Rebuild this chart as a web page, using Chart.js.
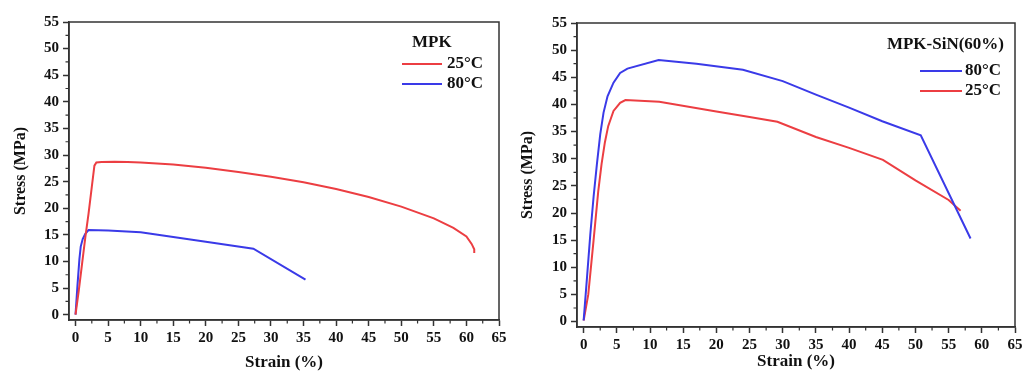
<!DOCTYPE html>
<html>
<head>
<meta charset="utf-8">
<script src="https://cdn.jsdelivr.net/npm/chart.js@4.4.1/dist/chart.umd.min.js"></script>
<style>
  html, body { margin: 0; padding: 0; background: #fff; overflow: hidden; width: 1022px; height: 376px; }
  .wrap { position: absolute; top: 0; }
  canvas { display: block; }
</style>
</head>
<body>
<div class="wrap" style="left:0px"><canvas id="c1" width="510" height="376"></canvas></div>
<div class="wrap" style="left:510px"><canvas id="c2" width="520" height="376"></canvas></div>
<script>
// ---------- data ----------
const xTicks = [0, 5, 10, 15, 20, 25, 30, 35, 40, 45, 50, 55, 60, 65];
const yTicks = [0, 5, 10, 15, 20, 25, 30, 35, 40, 45, 50, 55];
const xMinor = [2.5, 7.5, 12.5, 17.5, 22.5, 27.5, 32.5, 37.5, 42.5, 47.5, 52.5, 57.5, 62.5];
const yMinor = [2.5, 7.5, 12.5, 17.5, 22.5, 27.5, 32.5, 37.5, 42.5, 47.5, 52.5];

// MPK, 25°C
const mpk25Strain = [0, 0.5, 1, 1.5, 2, 2.5, 2.9, 3.2, 4, 6, 8, 10, 15, 20, 25, 30, 35, 40, 45, 50, 55, 58, 60, 60.8, 61.2, 61.2];
const mpk25Stress = [0, 4.5, 9.5, 14.5, 19, 24, 28, 28.6, 28.7, 28.75, 28.7, 28.6, 28.2, 27.6, 26.8, 25.9, 24.9, 23.6, 22.1, 20.3, 18.1, 16.3, 14.7, 13.3, 12.3, 11.6];
// MPK, 80°C
const mpk80Strain = [0, 0.3, 0.6, 0.8, 1.1, 1.5, 2.0, 5, 10, 15, 20, 27.3, 35.3];
const mpk80Stress = [0, 5.5, 10.5, 12.8, 14.2, 15.2, 15.9, 15.8, 15.5, 14.6, 13.7, 12.4, 6.6];
// MPK-SiN(60%), 80°C
const sin80Strain = [0, 0.5, 1.0, 1.5, 2.0, 2.5, 3.0, 3.6, 4.5, 5.5, 6.6, 11.3, 17, 24, 30, 35, 40, 45, 50.8, 58.3];
const sin80Stress = [0.2, 8, 16, 23, 29, 34.5, 38.5, 41.5, 44, 45.8, 46.6, 48.2, 47.5, 46.4, 44.3, 41.8, 39.4, 36.9, 34.3, 15.3];
// MPK-SiN(60%), 25°C
const sin25Strain = [0, 0.7, 1.5, 2.2, 2.7, 3.2, 3.7, 4.5, 5.5, 6.3, 11.4, 20, 25, 29.2, 35, 40, 45.1, 50, 55, 56.8];
const sin25Stress = [0.2, 5, 15, 24, 29, 33, 36, 38.8, 40.3, 40.8, 40.5, 38.7, 37.7, 36.8, 34.0, 32.0, 29.8, 26.0, 22.4, 20.4];

const RED = 'rgb(236, 62, 66)';
const BLUE = 'rgb(58, 58, 232)';
const AXIS = '#333';
const TXT = '#111';
const FAM = "'Liberation Serif', 'DejaVu Serif', serif";

function pts(xs, ys) { return xs.map((x, i) => ({ x: x, y: ys[i] })); }

const decor = {
  id: 'decor',
  afterDraw(chart, args, o) {
    const { ctx, chartArea: a, scales } = chart;
    const x = scales.x, y = scales.y;
    ctx.save();
    ctx.strokeStyle = AXIS;
    ctx.lineWidth = 1.5;
    ctx.strokeRect(a.left, a.top, a.right - a.left, a.bottom - a.top);
    ctx.lineWidth = 1.2;
    ctx.beginPath();
    xMinor.forEach(v => { const p = x.getPixelForValue(v); ctx.moveTo(p, a.bottom); ctx.lineTo(p, a.bottom + 3.5); });
    yMinor.forEach(v => { const p = y.getPixelForValue(v); ctx.moveTo(a.left, p); ctx.lineTo(a.left - 3.5, p); });
    ctx.stroke();
    // legend
    ctx.fillStyle = TXT;
    ctx.textBaseline = 'middle';
    ctx.font = 'bold 17px ' + FAM;
    ctx.textAlign = o.titleAlign;
    ctx.fillText(o.title, o.titleX, o.titleY);
    ctx.textAlign = 'left';
    chart.data.datasets.forEach((ds, i) => {
      const yy = o.rows[i];
      ctx.strokeStyle = ds.borderColor;
      ctx.lineWidth = 2;
      ctx.beginPath();
      ctx.moveTo(o.lineX1, yy); ctx.lineTo(o.lineX2, yy);
      ctx.stroke();
      ctx.fillText(ds.label, o.textX, yy);
    });
    ctx.restore();
  }
};

function makeChart(id, datasets, geo, leg) {
  return new Chart(document.getElementById(id), {
    type: 'scatter',
    data: { datasets: datasets.map(d => Object.assign({
      showLine: true, pointRadius: 0, borderWidth: 2, tension: 0, fill: false
    }, d)) },
    options: {
      responsive: false, animation: false, devicePixelRatio: 1,
      layout: { padding: { top: geo.top, right: geo.right, left: 0, bottom: 0 } },
      plugins: { legend: { display: false }, tooltip: { enabled: false }, decor: leg },
      scales: {
        x: {
          type: 'linear', min: -1, max: 65,
          afterBuildTicks: s => { s.ticks = xTicks.map(v => ({ value: v })); },
          afterFit: s => { s.height = geo.xh; },
          grid: { drawOnChartArea: false, drawTicks: true, tickLength: 6, color: AXIS, tickWidth: 1.5 },
          border: { display: true, color: AXIS, width: 1.5 },
          ticks: { color: TXT, font: { family: FAM, weight: 'bold', size: 15 }, padding: 3, maxRotation: 0, autoSkip: false },
          title: { display: true, text: 'Strain (%)', color: TXT, font: { family: FAM, weight: 'bold', size: 17 }, padding: { top: 2, bottom: geo.xtp } }
        },
        y: {
          type: 'linear', min: -1, max: 55,
          afterBuildTicks: s => { s.ticks = yTicks.map(v => ({ value: v })); },
          afterFit: s => { s.width = geo.yw; },
          grid: { drawOnChartArea: false, drawTicks: true, tickLength: 6, color: AXIS, tickWidth: 1.5 },
          border: { display: true, color: AXIS, width: 1.5 },
          ticks: { color: TXT, font: { family: FAM, weight: 'bold', size: 15 }, padding: 4, autoSkip: false },
          title: { display: true, text: 'Stress (MPa)', color: TXT, font: { family: FAM, weight: 'bold', size: 16 }, padding: { top: geo.ytp, bottom: 0 } }
        }
      }
    },
    plugins: [decor]
  });
}

makeChart('c1', [
  { label: '25°C', data: pts(mpk25Strain, mpk25Stress), borderColor: RED },
  { label: '80°C', data: pts(mpk80Strain, mpk80Stress), borderColor: BLUE }
], { top: 22, right: 11, xh: 56, yw: 69, xtp: 3, ytp: 11 },
{ title: 'MPK', titleAlign: 'left', titleX: 412, titleY: 43, lineX1: 402, lineX2: 442, textX: 447, rows: [64, 84] });

makeChart('c2', [
  { label: '80°C', data: pts(sin80Strain, sin80Stress), borderColor: BLUE },
  { label: '25°C', data: pts(sin25Strain, sin25Stress), borderColor: RED }
], { top: 23, right: 15, xh: 49, yw: 67, xtp: 4, ytp: 8 },
{ title: 'MPK-SiN(60%)', titleAlign: 'right', titleX: 494, titleY: 45, lineX1: 410, lineX2: 452, textX: 455, rows: [71, 91] });
</script>
</body>
</html>
